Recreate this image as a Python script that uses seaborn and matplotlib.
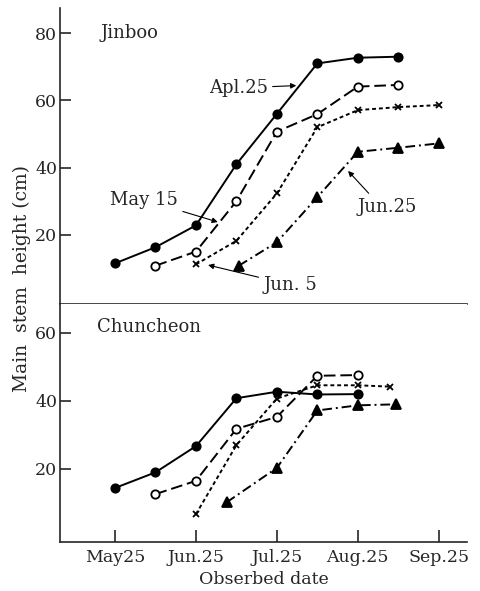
import numpy as np
import pandas as pd
import matplotlib
matplotlib.use("Agg")
import matplotlib.pyplot as plt
import seaborn as sns

# x = months after May 25 (observation dates)
series_names = ["Apl.25", "May 15", "Jun.5", "Jun.25"]

# Jinboo
jinboo_apl_x = [0, 0.5, 1, 1.5, 2, 2.5, 3, 3.5]
jinboo_apl_y = [11.5, 16.3, 22.8, 41.0, 56.0, 71.0, 72.7, 73.0]
jinboo_may_x = [0.5, 1, 1.5, 2, 2.5, 3, 3.5]
jinboo_may_y = [10.8, 15.0, 30.0, 50.7, 55.9, 64.1, 64.6]
jinboo_jun5_x = [1, 1.5, 2, 2.5, 3, 3.5, 4]
jinboo_jun5_y = [11.2, 18.2, 32.3, 52.0, 57.1, 58.0, 58.6]
jinboo_jun25_x = [1.53, 2, 2.5, 3, 3.5, 4]
jinboo_jun25_y = [10.8, 17.8, 31.2, 44.7, 45.9, 47.2]

# Chuncheon
chun_apl_x = [0, 0.5, 1, 1.5, 2, 2.5, 3]
chun_apl_y = [14.4, 19.0, 26.7, 40.8, 42.7, 41.9, 42.0]
chun_may_x = [0.5, 1, 1.5, 2, 2.5, 3]
chun_may_y = [12.6, 16.5, 31.8, 35.3, 47.4, 47.6]
chun_jun5_x = [1, 1.5, 2, 2.5, 3, 3.4]
chun_jun5_y = [6.7, 27.0, 40.7, 44.6, 44.6, 44.2]
chun_jun25_x = [1.38, 2, 2.5, 3, 3.47]
chun_jun25_y = [10.2, 20.3, 37.2, 38.7, 39.0]

tick_pos = [0, 1, 2, 3, 4]
tick_labels = ["May25", "Jun.25", "Jul.25", "Aug.25", "Sep.25"]


def long_df(xs, ys):
    frames = []
    for name, x, y in zip(series_names, xs, ys):
        frames.append(pd.DataFrame({"month": x, "height": y, "sowing": name}))
    return pd.concat(frames, ignore_index=True)


jinboo = long_df([jinboo_apl_x, jinboo_may_x, jinboo_jun5_x, jinboo_jun25_x],
                 [jinboo_apl_y, jinboo_may_y, jinboo_jun5_y, jinboo_jun25_y])
chun = long_df([chun_apl_x, chun_may_x, chun_jun5_x, chun_jun25_x],
               [chun_apl_y, chun_may_y, chun_jun5_y, chun_jun25_y])

styles = {
    "Apl.25": dict(linestyle="-", marker="o", markersize=6, markerfacecolor="k"),
    "May 15": dict(linestyle=(0, (6, 2.5)), marker="o", markersize=6, markerfacecolor="white"),
    "Jun.5": dict(linestyle=(0, (2, 1.5)), marker="x", markersize=5, markerfacecolor="k"),
    "Jun.25": dict(linestyle=(0, (5, 2, 1, 2)), marker="^", markersize=7, markerfacecolor="k"),
}

sns.set_style("ticks")
plt.rcParams["font.family"] = ["DejaVu Serif", "Liberation Serif"]
plt.rcParams["font.size"] = 12.5

fig = plt.figure(figsize=(4.8, 5.91), dpi=100)
ax_top = fig.add_axes([0.125, 0.4856, 0.848, 0.5009])
ax_bot = fig.add_axes([0.125, 0.0834, 0.848, 0.4022])


def draw(ax, df):
    for name in series_names:
        sub = df[df["sowing"] == name]
        sns.lineplot(data=sub, x="month", y="height", ax=ax, color="k", sort=False,
                     linewidth=1.4, markeredgecolor="k", markeredgewidth=1.3,
                     legend=False, **styles[name])


draw(ax_top, jinboo)
draw(ax_bot, chun)

for ax in (ax_top, ax_bot):
    ax.set_xlim(-0.68, 4.35)
    ax.set_xlabel("")
    ax.set_ylabel("")
    for s in ["top", "right"]:
        ax.spines[s].set_visible(False)
    ax.spines["left"].set_linewidth(1.2)
    ax.spines["bottom"].set_linewidth(1.2)
    ax.tick_params(axis="y", direction="in", length=8, width=1.2, pad=2, labelsize=12.5)

ax_top.set_ylim(-0.6, 87.5)
ax_top.set_yticks([20, 40, 60, 80])
ax_top.set_xticks([])

ax_bot.set_ylim(-1.4, 68.5)
ax_bot.set_yticks([20, 40, 60])
ax_bot.set_xticks(tick_pos)
ax_bot.set_xticklabels(tick_labels)
ax_bot.tick_params(axis="x", direction="in", length=9, width=1.2, pad=5, labelsize=12.5)
ax_bot.set_xlabel("Obserbed date", fontsize=12.5, labelpad=4)

ax_top.text(-0.185, 80, "Jinboo", fontsize=13, va="center", ha="left")
ax_bot.text(-0.22, 61.7, "Chuncheon", fontsize=13, va="center", ha="left")

arrow = dict(arrowstyle="-|>", color="k", lw=0.8, mutation_scale=8, shrinkA=1, shrinkB=0)
ax_top.annotate("Apl.25", xy=(2.24, 64.4), xytext=(1.89, 63.7), ha="right", va="center",
                fontsize=13, arrowprops=arrow)
ax_top.annotate("May 15", xy=(1.27, 23.8), xytext=(0.78, 30.4), ha="right", va="center",
                fontsize=13, arrowprops=arrow)
ax_top.annotate("Jun. 5", xy=(1.15, 11.0), xytext=(1.83, 5.1), ha="left", va="center",
                fontsize=13, arrowprops=arrow)
ax_top.annotate("Jun.25", xy=(2.88, 39.0), xytext=(3.0, 28.4), ha="left", va="center",
                fontsize=13, arrowprops=dict(arrow, relpos=(0.25, 1.0)))

fig.text(22 / 480, 1 - 278 / 591, "Main  stem  height (cm)", rotation=90,
         ha="center", va="center", fontsize=13.5)

fig.savefig("out.png", dpi=100)
